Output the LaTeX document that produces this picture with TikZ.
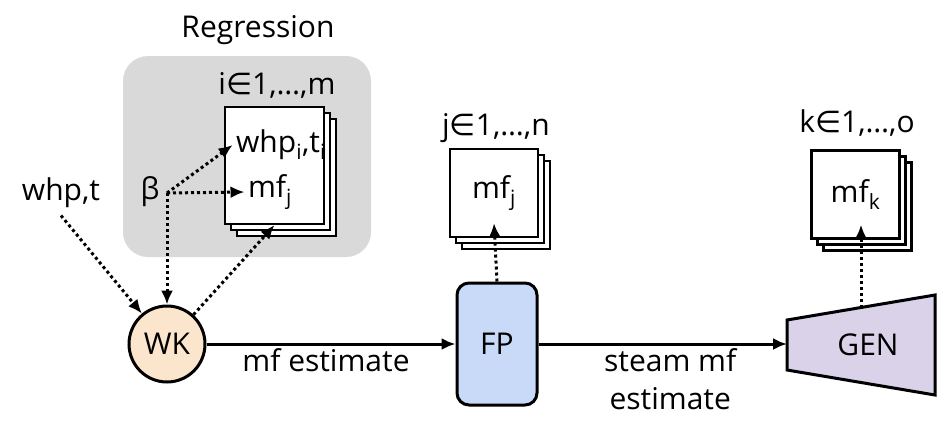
\documentclass[tikz,border=0pt]{standalone}
\usepackage{fontspec}
\setmainfont{Open Sans}
\newfontfamily\symfont{DejaVu Sans}
\usetikzlibrary{arrows.meta,shadows,calc}

\definecolor{wkfill}{HTML}{FCE5CD}
\definecolor{fpfill}{HTML}{C9DAF8}
\definecolor{genfill}{HTML}{D9D2E9}
\definecolor{regfill}{HTML}{D9D9D9}

\newcommand{\elemof}{{\symfont ∈}}

\begin{document}
\begin{tikzpicture}[x=1pt,y=-1pt,
  every node/.style={font=\fontsize{30}{36}\selectfont},
  stackbox/.style={draw,line width=2.2pt,fill=white,minimum width=88pt,minimum height=88pt,
    double copy shadow={shadow xshift=6pt,shadow yshift=-6pt,draw,line width=2.2pt,fill=white}},
  flow/.style={line width=3pt,-{Latex[length=14pt,width=12pt]}},
  info/.style={line width=3pt,dash pattern=on 3pt off 3pt,-{Latex[length=14pt,width=12pt]}}]

\useasboundingbox (0,0) rectangle (945,445);

% regression block
\node[fill=regfill,rounded corners=25pt,minimum width=248pt,minimum height=201pt] (regbox) at (247,156.5) {};
\node (regtitle) at (258,30) {Regression};
\node (ilab) at (277,85) {i\elemof1,…,m};
\node[stackbox,minimum width=99pt,minimum height=117pt] (regst) at (274.5,165.5) {};
\node (whpi) at (281,145) {whp\textsubscript{i},t\textsubscript{i}};
\node (mfi) at (270,192) {mf\textsubscript{j}};
\node (beta) at (150,192) {β};
\coordinate (bj) at (167,193);

% inputs
\node (whpt) at (61,193) {whp,t};

% well known
\node[circle,draw,line width=3pt,fill=wkfill,minimum size=76pt,inner sep=0pt] (wk) at (167,344) {WK};

% flow path
\node[draw,line width=3pt,fill=fpfill,rounded corners=12pt,minimum width=80pt,minimum height=122pt] (fp) at (497,344) {FP};
\node (jlab) at (496,128) {j\elemof1,…,n};
\node[stackbox] (jst) at (494,193) {mf\textsubscript{j}};

% generator
\coordinate (gtl) at (787,320);
\coordinate (gbl) at (787,370);
\coordinate (gtr) at (935,295);
\coordinate (gbr) at (935,395);
\draw[line width=3pt,fill=genfill] (gtl) -- (gtr) -- (gbr) -- (gbl) -- cycle;
\node (gen) at (868,345) {GEN};
\coordinate (genin) at (787,344);
\coordinate (genout) at ($(gtl)!0.5!(gtr)$);
\node (klab) at (857,123) {k\elemof1,…,o};
\node[stackbox] (kst) at (855.5,194.5) {mf\textsubscript{k}};
\coordinate (kin) at ([yshift=15pt]kst.south);

% regression arrows
\draw[info] (bj) -- (whpi.west);
\draw[info] (bj) -- (mfi.west);
\draw[info] (bj) -- (wk.north);
\draw[info] ([yshift=-4pt]whpt.south) -- (wk);
\draw[info] (wk) -- (regst.south);

% main flow
\draw[flow] (wk) -- (fp) node[pos=0.48,below] {mf estimate};
\draw[flow] (fp) -- (genin) node[pos=0.53,below,align=center] {steam mf\\[2pt]estimate};

% outputs
\draw[info] (fp.north) -- ([yshift=15pt]jst.south);
\draw[info] (genout) -- (genout |- kin);
\end{tikzpicture}
\end{document}
